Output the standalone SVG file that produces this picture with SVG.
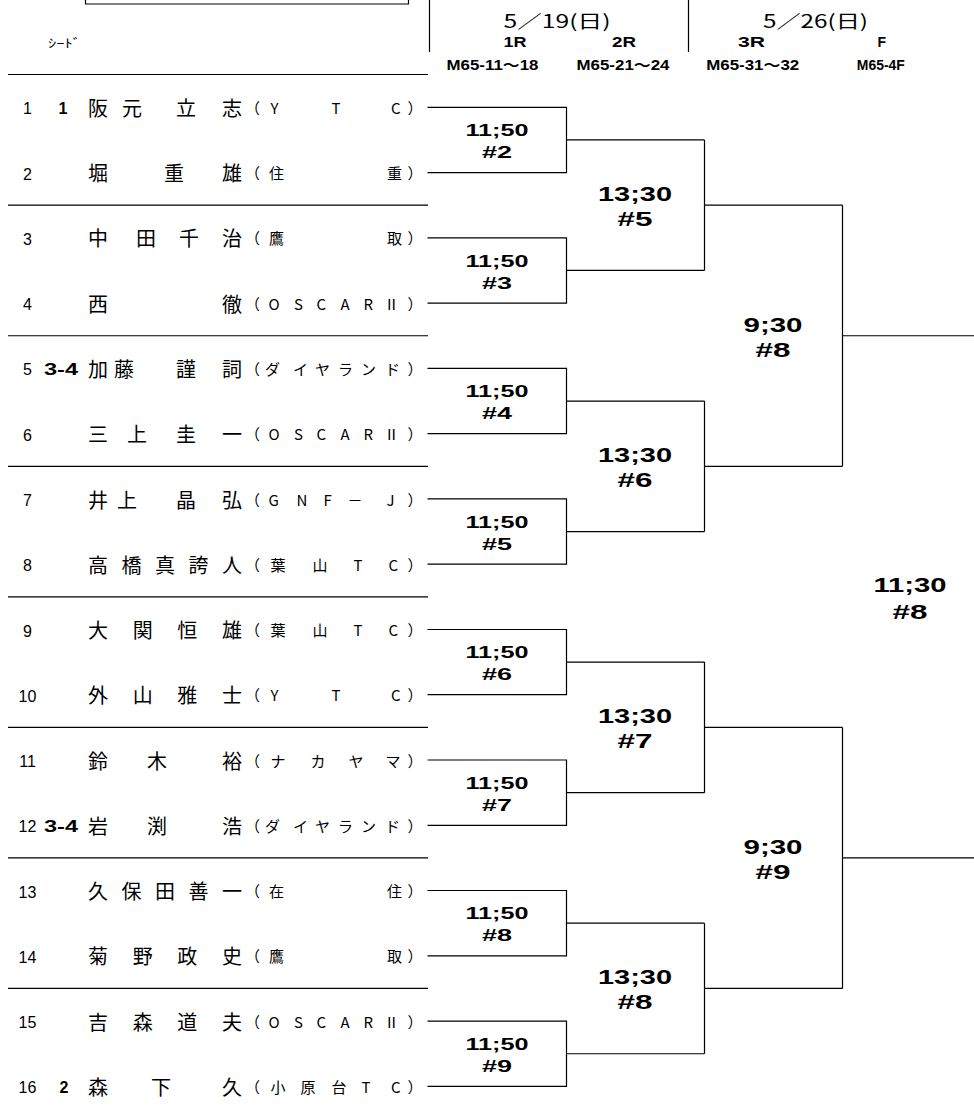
<svg xmlns="http://www.w3.org/2000/svg" width="974" height="1117" viewBox="0 0 974 1117">
<style>
.nm{font-family:"Noto Sans CJK JP",sans-serif;font-size:20px;fill:#000}
.cl{font-family:"Noto Sans CJK JP",sans-serif;font-size:15px;fill:#000}
.no{font-family:"Liberation Sans",sans-serif;font-size:16px;text-anchor:middle;fill:#000}
.sd{font-family:"Liberation Sans",sans-serif;font-size:16px;font-weight:bold;text-anchor:middle;fill:#000}
.l1{font-family:"Liberation Sans","Noto Sans CJK JP",sans-serif;font-size:17px;font-weight:bold;text-anchor:middle;fill:#000}
.l2{font-family:"Liberation Sans","Noto Sans CJK JP",sans-serif;font-size:21px;font-weight:bold;text-anchor:middle;fill:#000}
.hd{font-family:"Noto Sans CJK JP",sans-serif;font-size:18px;text-anchor:middle;fill:#000}
.rd{font-family:"Liberation Sans","Noto Sans CJK JP",sans-serif;font-size:14px;font-weight:bold;text-anchor:middle;fill:#000}
.sm{font-family:"Noto Sans CJK JP",sans-serif;font-size:12px;fill:#000}
.ln{fill:none;stroke:#000;stroke-width:1.2}
</style>

<g id="header">
  <path class="ln" d="M85.5 -2 V4 H408.5 V-2"/>
  <path class="ln" d="M429.5 0 V52 M688.5 0 V52"/>
  <text class="sm" x="48" y="48" textLength="33" lengthAdjust="spacingAndGlyphs">ｼｰﾄﾞ</text>
  <text class="hd" x="557" y="28.3" textLength="107" lengthAdjust="spacingAndGlyphs">5／19(日)</text>
  <text class="hd" x="815.5" y="28.3" textLength="105" lengthAdjust="spacingAndGlyphs">5／26(日)</text>
  <text class="rd" x="515" y="46.7" textLength="23" lengthAdjust="spacingAndGlyphs">1R</text>
  <text class="rd" x="624" y="46.7" textLength="24" lengthAdjust="spacingAndGlyphs">2R</text>
  <text class="rd" x="751.5" y="46.7" textLength="27" lengthAdjust="spacingAndGlyphs">3R</text>
  <text class="rd" x="881.7" y="46.7">F</text>
  <text class="rd" x="492.5" y="70" textLength="92" lengthAdjust="spacingAndGlyphs">M65-11～18</text>
  <text class="rd" x="623" y="70" textLength="93" lengthAdjust="spacingAndGlyphs">M65-21～24</text>
  <text class="rd" x="752.7" y="70" textLength="93" lengthAdjust="spacingAndGlyphs">M65-31～32</text>
  <text class="rd" x="880.8" y="70" textLength="48" lengthAdjust="spacingAndGlyphs">M65-4F</text>
</g>

<g id="connectors">
  <path class="ln" d="M8 74.5 H428 M8 205.2 H428 M8 335.75 H428 M8 466.3 H428 M8 596.8 H428 M8 727.4 H428 M8 857.9 H428 M8 988.45 H428"/>
  <path class="ln" d="M427.5 107.3 H566.5 V172.6 H427.5 M566.5 139.95 H704.5"/>
  <path class="ln" d="M427.5 237.8 H566.5 V303.1 H427.5 M566.5 270.45 H704.5"/>
  <path class="ln" d="M427.5 368.4 H566.5 V433.7 H427.5 M566.5 401.05 H704.5"/>
  <path class="ln" d="M427.5 498.9 H566.5 V564.2 H427.5 M566.5 531.55 H704.5"/>
  <path class="ln" d="M427.5 629.5 H566.5 V694.7 H427.5 M566.5 662.1 H704.5"/>
  <path class="ln" d="M427.5 760 H566.5 V825.3 H427.5 M566.5 792.65 H704.5"/>
  <path class="ln" d="M427.5 890.5 H566.5 V955.8 H427.5 M566.5 923.15 H704.5"/>
  <path class="ln" d="M427.5 1021.1 H566.5 V1086.4 H427.5 M566.5 1053.75 H704.5"/>
  <path class="ln" d="M704.5 139.95 V270.45 M704.5 205.2 H842.5"/>
  <path class="ln" d="M704.5 401.05 V531.55 M704.5 466.3 H842.5"/>
  <path class="ln" d="M704.5 662.1 V792.65 M704.5 727.4 H842.5"/>
  <path class="ln" d="M704.5 923.15 V1053.75 M704.5 988.45 H842.5"/>
  <path class="ln" d="M842.5 205.2 V466.3 M842.5 335.75 H974"/>
  <path class="ln" d="M842.5 727.4 V988.45 M842.5 857.9 H974"/>
</g>

<g id="p1" transform="translate(0,107.3)">
  <text class="no" x="27.5" y="7">1</text><text class="sd" x="63" y="7">1</text>
  <text class="nm" x="88 122 176 222" y="8.6">阪元立志</text>
  <text class="cl" x="245 270.5 331.5 391 407.5" y="6.6">（YTC）</text>
</g>
<g id="p2" transform="translate(0,172.6)">
  <text class="no" x="27.5" y="7">2</text>
  <text class="nm" x="88 164 222" y="8.6">堀重雄</text>
  <text class="cl" x="245 269 387 407.5" y="6.6">（住重）</text>
</g>
<g id="p3" transform="translate(0,237.8)">
  <text class="no" x="27.5" y="7">3</text>
  <text class="nm" x="88 136 179 222" y="8.6">中田千治</text>
  <text class="cl" x="245 269 387 407.5" y="6.6">（鷹取）</text>
</g>
<g id="p4" transform="translate(0,303.1)">
  <text class="no" x="27.5" y="7">4</text>
  <text class="nm" x="88 222" y="8.6">西徹</text>
  <text class="cl" x="245 268.5 294 316.5 340.5 363.5 384 407.5" y="6.6">（OSCARⅡ）</text>
</g>
<g id="p5" transform="translate(0,368.4)">
  <text class="no" x="27.5" y="7">5</text><text class="sd" x="61" y="7" textLength="34" lengthAdjust="spacingAndGlyphs">3-4</text>
  <text class="nm" x="88 114 176 222" y="8.6">加藤謹詞</text>
  <text class="cl" x="245 265 293 315 338 361 385 407.5" y="6.6">（ダイヤランド）</text>
</g>
<g id="p6" transform="translate(0,433.7)">
  <text class="no" x="27.5" y="7">6</text>
  <text class="nm" x="88 127 176 222" y="8.6">三上圭一</text>
  <text class="cl" x="245 268.5 294 316.5 340.5 363.5 384 407.5" y="6.6">（OSCARⅡ）</text>
</g>
<g id="p7" transform="translate(0,498.9)">
  <text class="no" x="27.5" y="7">7</text>
  <text class="nm" x="88 117 176 222" y="8.6">井上晶弘</text>
  <text class="cl" x="245 268.5 296.5 323.5 347.5 386.5 407.5" y="6.6">（GNF－J）</text>
</g>
<g id="p8" transform="translate(0,564.2)">
  <text class="no" x="27.5" y="7">8</text>
  <text class="nm" x="88 121.5 155 188.5 222" y="8.6">高橋真誇人</text>
  <text class="cl" x="245 270.5 312.5 353.5 388.5 407.5" y="6.6">（葉山TC）</text>
</g>
<g id="p9" transform="translate(0,629.5)">
  <text class="no" x="27.5" y="7">9</text>
  <text class="nm" x="88 132.7 177.3 222" y="8.6">大関恒雄</text>
  <text class="cl" x="245 270.5 312.5 353.5 388.5 407.5" y="6.6">（葉山TC）</text>
</g>
<g id="p10" transform="translate(0,694.7)">
  <text class="no" x="27.5" y="7">10</text>
  <text class="nm" x="88 132.7 177.3 222" y="8.6">外山雅士</text>
  <text class="cl" x="245 270.5 331.5 391 407.5" y="6.6">（YTC）</text>
</g>
<g id="p11" transform="translate(0,760)">
  <text class="no" x="27.5" y="7">11</text>
  <text class="nm" x="88 147 222" y="8.6">鈴木裕</text>
  <text class="cl" x="245 270.5 310.5 348.5 385.5 407.5" y="6.6">（ナカヤマ）</text>
</g>
<g id="p12" transform="translate(0,825.3)">
  <text class="no" x="27.5" y="7">12</text><text class="sd" x="61" y="7" textLength="34" lengthAdjust="spacingAndGlyphs">3-4</text>
  <text class="nm" x="88 147 222" y="8.6">岩渕浩</text>
  <text class="cl" x="245 265 293 315 338 361 385 407.5" y="6.6">（ダイヤランド）</text>
</g>
<g id="p13" transform="translate(0,890.5)">
  <text class="no" x="27.5" y="7">13</text>
  <text class="nm" x="88 121.5 155 188.5 222" y="8.6">久保田善一</text>
  <text class="cl" x="245 269 387 407.5" y="6.6">（在住）</text>
</g>
<g id="p14" transform="translate(0,955.8)">
  <text class="no" x="27.5" y="7">14</text>
  <text class="nm" x="88 132.7 177.3 222" y="8.6">菊野政史</text>
  <text class="cl" x="245 269 387 407.5" y="6.6">（鷹取）</text>
</g>
<g id="p15" transform="translate(0,1021.1)">
  <text class="no" x="27.5" y="7">15</text>
  <text class="nm" x="88 132.7 177.3 222" y="8.6">吉森道夫</text>
  <text class="cl" x="245 268.5 294 316.5 340.5 363.5 384 407.5" y="6.6">（OSCARⅡ）</text>
</g>
<g id="p16" transform="translate(0,1086.4)">
  <text class="no" x="27.5" y="7">16</text><text class="sd" x="64" y="7">2</text>
  <text class="nm" x="88 151 222" y="8.6">森下久</text>
  <text class="cl" x="245 270.5 300.5 331.5 361.5 391 407.5" y="6.6">（小原台TC）</text>
</g>

<g id="r1m1"><text class="l1" x="497" y="136.05" textLength="63" lengthAdjust="spacingAndGlyphs">11;50</text><text class="l1" x="497" y="158.05" textLength="30" lengthAdjust="spacingAndGlyphs">#2</text></g>
<g id="r1m2"><text class="l1" x="497" y="266.55" textLength="63" lengthAdjust="spacingAndGlyphs">11;50</text><text class="l1" x="497" y="288.55" textLength="30" lengthAdjust="spacingAndGlyphs">#3</text></g>
<g id="r1m3"><text class="l1" x="497" y="397.15" textLength="63" lengthAdjust="spacingAndGlyphs">11;50</text><text class="l1" x="497" y="419.15" textLength="30" lengthAdjust="spacingAndGlyphs">#4</text></g>
<g id="r1m4"><text class="l1" x="497" y="527.65" textLength="63" lengthAdjust="spacingAndGlyphs">11;50</text><text class="l1" x="497" y="549.65" textLength="30" lengthAdjust="spacingAndGlyphs">#5</text></g>
<g id="r1m5"><text class="l1" x="497" y="658.2" textLength="63" lengthAdjust="spacingAndGlyphs">11;50</text><text class="l1" x="497" y="680.2" textLength="30" lengthAdjust="spacingAndGlyphs">#6</text></g>
<g id="r1m6"><text class="l1" x="497" y="788.75" textLength="63" lengthAdjust="spacingAndGlyphs">11;50</text><text class="l1" x="497" y="810.75" textLength="30" lengthAdjust="spacingAndGlyphs">#7</text></g>
<g id="r1m7"><text class="l1" x="497" y="919.25" textLength="63" lengthAdjust="spacingAndGlyphs">11;50</text><text class="l1" x="497" y="941.25" textLength="30" lengthAdjust="spacingAndGlyphs">#8</text></g>
<g id="r1m8"><text class="l1" x="497" y="1049.85" textLength="63" lengthAdjust="spacingAndGlyphs">11;50</text><text class="l1" x="497" y="1071.85" textLength="30" lengthAdjust="spacingAndGlyphs">#9</text></g>

<g id="r2m1"><text class="l2" x="635" y="201.2" textLength="74" lengthAdjust="spacingAndGlyphs">13;30</text><text class="l2" x="635" y="225.7" textLength="35" lengthAdjust="spacingAndGlyphs">#5</text></g>
<g id="r2m2"><text class="l2" x="635" y="462.3" textLength="74" lengthAdjust="spacingAndGlyphs">13;30</text><text class="l2" x="635" y="486.8" textLength="35" lengthAdjust="spacingAndGlyphs">#6</text></g>
<g id="r2m3"><text class="l2" x="635" y="723.4" textLength="74" lengthAdjust="spacingAndGlyphs">13;30</text><text class="l2" x="635" y="747.9" textLength="35" lengthAdjust="spacingAndGlyphs">#7</text></g>
<g id="r2m4"><text class="l2" x="635" y="984.45" textLength="74" lengthAdjust="spacingAndGlyphs">13;30</text><text class="l2" x="635" y="1008.95" textLength="35" lengthAdjust="spacingAndGlyphs">#8</text></g>

<g id="r3m1"><text class="l2" x="773" y="331.5" textLength="59" lengthAdjust="spacingAndGlyphs">9;30</text><text class="l2" x="773" y="356.5" textLength="35" lengthAdjust="spacingAndGlyphs">#8</text></g>
<g id="r3m2"><text class="l2" x="773" y="853.65" textLength="59" lengthAdjust="spacingAndGlyphs">9;30</text><text class="l2" x="773" y="878.65" textLength="35" lengthAdjust="spacingAndGlyphs">#9</text></g>

<g id="final"><text class="l2" x="910" y="592.3" textLength="73" lengthAdjust="spacingAndGlyphs">11;30</text><text class="l2" x="910" y="619.3" textLength="35" lengthAdjust="spacingAndGlyphs">#8</text></g>
</svg>
